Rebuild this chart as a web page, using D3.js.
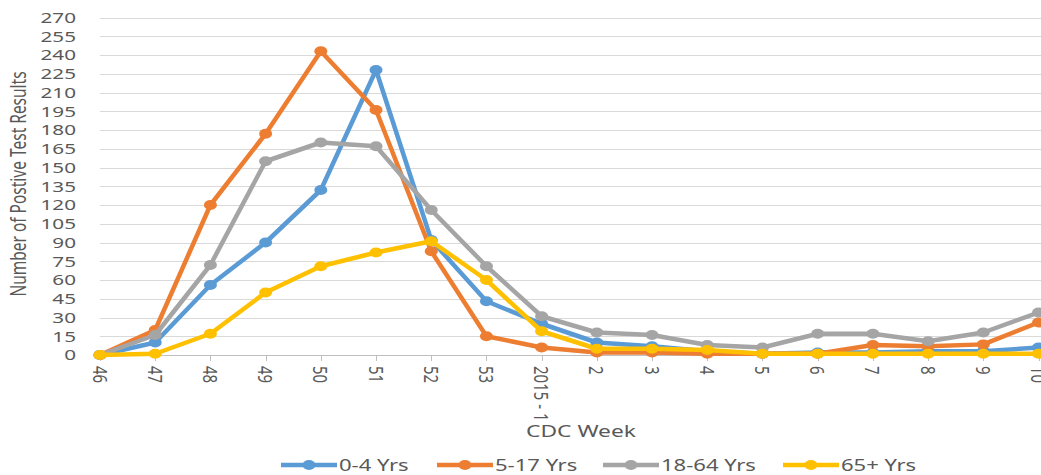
<!DOCTYPE html>
<html>
<head>
<meta charset="utf-8">
<script src="https://cdn.jsdelivr.net/npm/d3@7"></script>
<style>
  body { margin: 0; background: #fff; }
  svg { display: block; font-family: "Noto Sans", "Open Sans", sans-serif; }
</style>
</head>
<body>
<div id="chart"></div>
<script>
"use strict";

const weeks = ["46", "47", "48", "49", "50", "51", "52", "53", "2015 - 1",
  "2", "3", "4", "5", "6", "7", "8", "9", "10"];
const age0to4 = [0, 10, 56, 90, 132, 228, 92, 43, 25, 10, 7, 3, 1, 2, 2, 3, 3, 6];
const age5to17 = [0, 20, 120, 177, 243, 196, 83, 15, 6, 2, 2, 1, 1, 1, 8, 7, 8.5, 26];
const age18to64 = [0, 16, 72, 155, 170, 167, 116, 71, 31, 18, 16, 8, 6, 17, 17, 11, 18, 34];
const age65plus = [0, 1, 17, 50, 71, 82, 91, 60, 19, 5, 5, 4, 1, 1, 1, 1, 1, 1];
const seriesNames = ["0-4 Yrs", "5-17 Yrs", "18-64 Yrs", "65+ Yrs"];
const yTicks = d3.range(0, 271, 15);

const width = 1041;
const height = 475;
const sx = 1.38; // the reference is stretched sideways

const series = [
  { name: seriesNames[0], values: age0to4, color: "#5b9bd5" },
  { name: seriesNames[1], values: age5to17, color: "#ed7d31" },
  { name: seriesNames[2], values: age18to64, color: "#a5a5a5" },
  { name: seriesNames[3], values: age65plus, color: "#ffc000" }
];

const svg = d3
  .select("#chart")
  .append("svg")
  .attr("width", width)
  .attr("height", height);

const x = d3.scalePoint().domain(weeks).range([100, 1038.5]);
const y = d3.scaleLinear().domain([0, 270]).range([355, 17.5]);

// place text with a horizontal stretch
const putText = (sel, px, py, rot) =>
  sel.attr("transform", `translate(${px},${py}) scale(${sx},1)` + (rot ? ` rotate(${rot})` : ""));

// gridlines
svg
  .append("g")
  .selectAll("line")
  .data(yTicks.filter((d) => d > 0))
  .enter()
  .append("line")
  .attr("x1", 100)
  .attr("x2", 1041)
  .attr("y1", (d) => Math.round(y(d)) + 0.5)
  .attr("y2", (d) => Math.round(y(d)) + 0.5)
  .attr("stroke", "#d9d9d9")
  .attr("stroke-width", 1);

// x axis line and ticks
svg
  .append("line")
  .attr("x1", 100)
  .attr("x2", 1041)
  .attr("y1", Math.round(y(0)) + 0.5)
  .attr("y2", Math.round(y(0)) + 0.5)
  .attr("stroke", "#bfbfbf");

svg
  .append("g")
  .selectAll("line")
  .data(weeks)
  .enter()
  .append("line")
  .attr("x1", (d) => Math.round(x(d)) + 0.5)
  .attr("x2", (d) => Math.round(x(d)) + 0.5)
  .attr("y1", y(0))
  .attr("y2", y(0) + 6)
  .attr("stroke", "#bfbfbf");

// y tick labels
svg
  .append("g")
  .selectAll("text")
  .data(yTicks)
  .enter()
  .append("text")
  .text((d) => d)
  .attr("text-anchor", "end")
  .attr("dy", "0.36em")
  .attr("font-size", "15px")
  .attr("fill", "#595959")
  .each(function (d) {
    putText(d3.select(this), 76, y(d), 0);
  });

// x tick labels, rotated
svg
  .append("g")
  .selectAll("text")
  .data(weeks)
  .enter()
  .append("text")
  .text((d) => d)
  .attr("text-anchor", "start")
  .attr("dy", "0.36em")
  .attr("font-size", "15px")
  .attr("fill", "#595959")
  .each(function (d) {
    putText(d3.select(this), x(d), 366, 90);
  });

// axis titles
putText(
  svg
    .append("text")
    .text("Number of Postive Test Results")
    .attr("text-anchor", "middle")
    .attr("dy", "0.36em")
    .attr("font-size", "15.5px")
    .attr("fill", "#595959"),
  18, 184, -90
);

putText(
  svg
    .append("text")
    .text("CDC Week")
    .attr("text-anchor", "middle")
    .attr("dy", "0.36em")
    .attr("font-size", "16.5px")
    .attr("fill", "#595959"),
  581, 431, 0
);

// lines and markers
const line = d3
  .line()
  .x((d, i) => x(weeks[i]))
  .y((d) => y(d));

series.forEach((s) => {
  const g = svg.append("g");
  g.append("path")
    .datum(s.values)
    .attr("d", line)
    .attr("fill", "none")
    .attr("stroke", s.color)
    .attr("stroke-width", 4.5)
    .attr("stroke-linejoin", "round");
  g.selectAll("ellipse")
    .data(s.values)
    .enter()
    .append("ellipse")
    .attr("cx", (d, i) => x(weeks[i]))
    .attr("cy", (d) => y(d))
    .attr("rx", 6.5)
    .attr("ry", 5)
    .attr("fill", s.color);
});

// legend
const legendX = [281, 437, 603, 783];
series.forEach((s, i) => {
  const g = svg.append("g");
  const lx = legendX[i];
  g.append("line")
    .attr("x1", lx)
    .attr("x2", lx + 56)
    .attr("y1", 465)
    .attr("y2", 465)
    .attr("stroke", s.color)
    .attr("stroke-width", 4.5);
  g.append("ellipse")
    .attr("cx", lx + 28)
    .attr("cy", 465)
    .attr("rx", 6.5)
    .attr("ry", 5)
    .attr("fill", s.color);
  putText(
    g.append("text")
      .text(s.name)
      .attr("dy", "0.36em")
      .attr("font-size", "16px")
      .attr("fill", "#595959"),
    lx + 58, 465, 0
  );
});
</script>
</body>
</html>
